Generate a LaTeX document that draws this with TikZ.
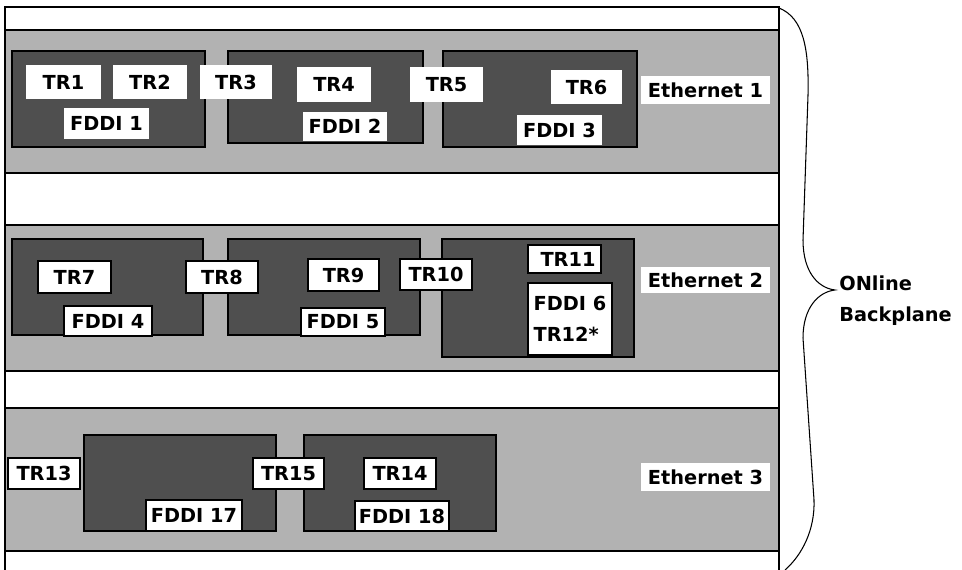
\documentclass[tikz,border=0pt]{standalone}
\usepackage{fontspec}
\setmainfont{DejaVu Sans}
\usepackage{tikz}
\usetikzlibrary{positioning}
\definecolor{bandgray}{gray}{0.70}
\definecolor{cardgray}{gray}{0.31}
\newcommand{\px}{0.02cm}

\begin{document}
\begin{tikzpicture}[x=\px, y=-\px,
  sz/.style 2 args={minimum width=#1*\px, minimum height=#2*\px},
  band/.style={fill=bandgray, draw=black, line width=1.2pt},
  card/.style={draw=black, fill=cardgray, line width=1pt, inner sep=0pt},
  tag/.style={fill=white, inner sep=0pt, font=\bfseries\fontsize{11}{13}\selectfont},
  tagb/.style={tag, draw=black, line width=1pt}]
  \useasboundingbox (0,0) rectangle (962,570);
  % three ethernet segments
  \node[band, sz={774}{143}] (seg1) at (392,101.5) {};
  \node[band, sz={774}{146}] (seg2) at (392,298) {};
  \node[band, sz={774}{143}] (seg3) at (392,479.5) {};
  \draw[line width=1.2pt] (5,570) -- (5,7) -- (779,7) -- (779,570);
  % segment 1
  \node[card, sz={193}{96}] (fd1) at (108.5,99) {};
  \node[card, sz={195}{92}] (fd2) at (325.5,97) {};
  \node[card, sz={194}{96}] (fd3) at (540,99) {};
  \node[tag, sz={75}{34}] (tr1) at (63.5,82) {TR1};
  \node[tag, sz={74}{34}] (tr2) at (150,82) {TR2};
  \node[tag, sz={72}{34}] (tr3) at (236,82) {TR3};
  \node[tag, sz={74}{35}] (tr4) at (334,84.5) {TR4};
  \node[tag, sz={73}{35}] (tr5) at (446.5,84.5) {TR5};
  \node[tag, sz={71}{34}] (tr6) at (586.5,87) {TR6};
  \node[tag, sz={85}{31}] (fddi1) at (106.5,123.5) {FDDI 1};
  \node[tag, sz={84}{29}] (fddi2) at (345,126.5) {FDDI 2};
  \node[tag, sz={85}{30}] (fddi3) at (559.5,130) {FDDI 3};
  \node[tag, sz={129}{28}] (eth1) at (705.5,90) {Ethernet 1};
  % segment 2
  \node[card, sz={191}{96}] (fd4) at (107.5,287) {};
  \node[card, sz={192}{96}] (fd5) at (324,287) {};
  \node[card, sz={192}{118}] (fd6) at (538,298) {};
  \node[tagb, sz={73}{32}] (tr7) at (74.5,277) {TR7};
  \node[tagb, sz={72}{32}] (tr8) at (222,277) {TR8};
  \node[tagb, sz={71}{32}] (tr9) at (343.5,275) {TR9};
  \node[tagb, sz={72}{31}] (tr10) at (436,274.5) {TR10};
  \node[tagb, sz={73}{28}] (tr11) at (564.5,259) {\hspace{4pt}TR11};
  \node[tagb, sz={84}{72}, align=left] (fddi6) at (570,319) {FDDI 6\\[5pt]TR12*};
  \node[tagb, sz={88}{30}] (fddi4) at (108,321) {FDDI 4};
  \node[tagb, sz={84}{28}] (fddi5) at (343,322) {FDDI 5};
  \node[tag, sz={129}{26}] (eth2) at (705.5,280) {Ethernet 2};
  % segment 3
  \node[card, sz={192}{96}] (fd17) at (180,483) {};
  \node[card, sz={192}{96}] (fd18) at (400,483) {};
  \node[tagb, sz={72}{31}] (tr13) at (44,473.5) {TR13};
  \node[tagb, sz={71}{31}] (tr15) at (288.5,473.5) {TR15};
  \node[tagb, sz={72}{31}] (tr14) at (400,473.5) {TR14};
  \node[tagb, sz={96}{31}] (fddi17) at (194,515.5) {FDDI 17};
  \node[tagb, sz={94}{30}] (fddi18) at (402,516) {FDDI 18};
  \node[tag, sz={129}{28}] (eth3) at (705.5,477) {Ethernet 3\hspace{7pt}};
  % backplane brace
  \node[anchor=west, align=left, inner sep=0pt,
    font=\bfseries\fontsize{11}{17.6}\selectfont] (bp) at (839,301) {ONline\\Backplane};
  \coordinate (tip) at (835,290);
  \draw[line width=0.6pt] (779,8) .. controls (804,18) and (809,50) .. (808,95)
    -- (803,240) .. controls (803,272) and (818,288) .. (tip)
    .. controls (818,292) and (803,308) .. (803,338)
    -- (814,500) .. controls (815,530) and (802,555) .. (785,570);
\end{tikzpicture}
\end{document}
